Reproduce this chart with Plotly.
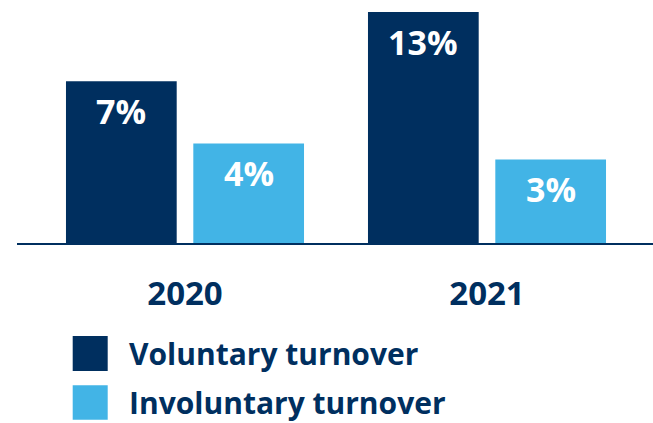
import plotly.graph_objects as go

# ---- data ----
years = ["2020", "2021"]
voluntary_labels = ["7%", "13%"]
involuntary_labels = ["4%", "3%"]
# bar heights as drawn in the picture (arbitrary scale, 13% bar = 13)
voluntary_heights = [9.1, 13.0]
involuntary_heights = [5.6, 4.7]
series_names = ["Voluntary turnover", "Involuntary turnover"]

NAVY = "#002F5F"
LIGHT = "#42B4E6"
FONT = "Open Sans"

W, H = 653, 423
ML, MR, MT, MB = 17, 0, 12, 179.5
PW = W - ML - MR
PH = H - MT - MB

x_pos = [0, 1]
bar_w = 0.3666
gap = 0.055
off_vol = -(bar_w + gap / 2)
off_inv = gap / 2

fig = go.Figure()
fig.add_trace(go.Bar(x=x_pos, y=voluntary_heights, name=series_names[0],
                     marker=dict(color=NAVY, line=dict(width=0)),
                     width=bar_w, offset=off_vol, showlegend=False, hoverinfo="skip"))
fig.add_trace(go.Bar(x=x_pos, y=involuntary_heights, name=series_names[1],
                     marker=dict(color=LIGHT, line=dict(width=0)),
                     width=bar_w, offset=off_inv, showlegend=False, hoverinfo="skip"))

annotations = []
for xi, h, lab in zip(x_pos, voluntary_heights, voluntary_labels):
    annotations.append(dict(x=xi + off_vol + bar_w / 2, y=h, xref="x", yref="y", text=lab,
                            showarrow=False, yanchor="middle", yshift=-30,
                            font=dict(family=FONT, size=34, color="white", weight=700)))
for xi, h, lab in zip(x_pos, involuntary_heights, involuntary_labels):
    annotations.append(dict(x=xi + off_inv + bar_w / 2, y=h, xref="x", yref="y", text=lab,
                            showarrow=False, yanchor="middle", yshift=-30,
                            font=dict(family=FONT, size=34, color="white", weight=700)))

def px_x(px):
    return (px - ML) / PW

def px_y(py):
    return (H - MB - py) / PH

shapes = []
legend_rows = [(series_names[0], NAVY, 336.7, 371.7), (series_names[1], LIGHT, 386, 420.7)]
for name, col, y0, y1 in legend_rows:
    shapes.append(dict(type="rect", xref="paper", yref="paper",
                       x0=px_x(72.7), x1=px_x(107.7), y0=px_y(y1), y1=px_y(y0),
                       fillcolor=col, line=dict(width=0)))
    annotations.append(dict(x=px_x(127), y=px_y((y0 + y1) / 2), xref="paper", yref="paper",
                            text=name, showarrow=False, xanchor="left", yanchor="middle",
                            font=dict(family=FONT, size=30, color=NAVY, weight=700)))

fig.update_layout(
    width=W, height=H,
    margin=dict(l=ML, r=MR, t=MT, b=MB, pad=0),
    paper_bgcolor="white", plot_bgcolor="white",
    barmode="overlay",
    xaxis=dict(range=[-168 / 302, 468 / 302], tickvals=x_pos, ticktext=years,
               showgrid=False, zeroline=False, showline=True, linewidth=2, linecolor=NAVY,
               ticks="", ticklabelstandoff=20,
               tickfont=dict(family=FONT, size=33, color=NAVY, weight=700), fixedrange=True),
    yaxis=dict(range=[0, 13.0], visible=False, showgrid=False, zeroline=False, fixedrange=True),
    shapes=shapes,
    annotations=annotations,
    font=dict(family=FONT),
)

fig.write_html("out.html", config={"displayModeBar": False},
               post_script="document.body.style.margin='0';document.body.style.padding='0';")
